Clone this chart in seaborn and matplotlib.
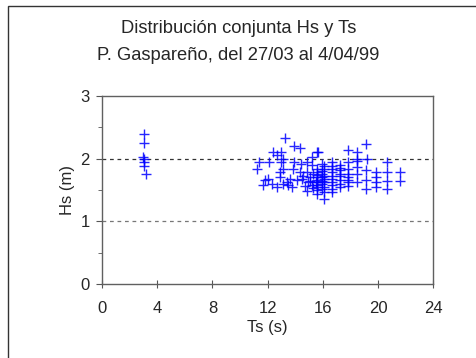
import matplotlib
matplotlib.use("Agg")
import matplotlib.pyplot as plt
from matplotlib.patches import Rectangle
from matplotlib.ticker import MultipleLocator
import seaborn as sns
import pandas as pd

# periodo (s) y altura de ola (m)
ts = [3.05, 3.05, 3.0, 3.05, 3.05, 3.05, 3.15,
      13.26, 13.91, 14.35, 12.37, 12.97, 12.70, 13.14, 11.40, 12.10, 12.97,
      11.21, 13.91, 14.42, 14.83, 15.19, 15.56, 15.20, 13.14, 13.86, 12.90,
      14.35, 14.88, 12.90, 12.05, 11.81, 13.62, 14.11, 14.47, 11.69, 12.30,
      12.66, 13.14, 13.50, 13.74, 13.38, 14.71, 14.83, 15.07, 15.50, 15.56,
      15.30,
      19.11, 17.85, 18.50, 18.50, 19.18, 15.68, 20.66, 15.92, 16.64, 17.85,
      18.45, 17.25, 15.56, 16.11, 16.64, 17.25, 17.85, 18.50, 19.11, 19.86,
      20.66, 21.59, 18.50, 17.80, 19.11, 19.86, 20.66, 21.59, 19.86, 18.50,
      17.80, 19.11, 19.86, 20.66, 17.25, 16.64, 16.11, 16.11,
      15.56, 15.56, 15.56, 15.56, 15.56, 15.56, 15.56, 15.56,
      15.92, 15.92, 15.92, 15.92, 15.92, 15.92,
      16.11, 16.11, 16.11, 16.11, 16.11,
      16.64, 16.64, 16.64, 16.64, 16.64, 16.64, 16.64,
      17.25, 17.25, 17.25, 17.25, 17.25,
      14.60, 15.10, 15.30, 14.90, 15.20, 17.85, 17.85, 17.85]
hs = [2.40, 2.25, 2.03, 2.00, 1.95, 1.88, 1.76,
      2.33, 2.20, 2.17, 2.10, 2.11, 2.05, 1.99, 1.95, 1.95, 1.95,
      1.84, 1.94, 1.92, 1.94, 2.03, 2.11, 1.90, 1.83, 1.84, 1.78,
      1.79, 1.78, 1.70, 1.67, 1.66, 1.67, 1.66, 1.67, 1.58, 1.59,
      1.55, 1.59, 1.58, 1.54, 1.62, 1.56, 1.48, 1.64, 1.62, 1.43,
      1.53,
      2.24, 2.13, 2.10, 2.00, 2.00, 2.11, 1.94, 1.92, 1.95, 1.94,
      1.96, 1.90, 1.84, 1.83, 1.84, 1.81, 1.84, 1.86, 1.81, 1.79,
      1.78, 1.78, 1.76, 1.70, 1.66, 1.70, 1.65, 1.65, 1.62, 1.62,
      1.56, 1.52, 1.55, 1.52, 1.54, 1.46, 1.36, 1.46,
      1.50, 1.55, 1.58, 1.62, 1.66, 1.70, 1.74, 1.78,
      1.52, 1.60, 1.64, 1.70, 1.75, 1.80,
      1.55, 1.62, 1.68, 1.72, 1.88,
      1.52, 1.58, 1.63, 1.68, 1.72, 1.78, 1.88,
      1.60, 1.66, 1.72, 1.76, 1.85,
      1.72, 1.70, 1.75, 1.62, 1.58, 1.62, 1.66, 1.76]

df = pd.DataFrame({"Ts": ts, "Hs": hs})

sns.set_style("white")
plt.rcParams["font.family"] = ["Liberation Sans", "DejaVu Sans"]

fig = plt.figure(figsize=(4.77, 3.58), dpi=100)
ax = fig.add_axes([0.214, 0.207, 0.694, 0.525])

sns.scatterplot(x="Ts", y="Hs", data=df, marker="+", color="#0000ff",
                s=45, linewidth=1.0, alpha=0.85, ax=ax, zorder=3)

ax.set_xlim(0, 24)
ax.set_ylim(0, 3)
ax.xaxis.set_major_locator(MultipleLocator(4))
ax.xaxis.set_minor_locator(MultipleLocator(2))
ax.yaxis.set_major_locator(MultipleLocator(1))
ax.yaxis.set_minor_locator(MultipleLocator(0.5))
ax.tick_params(axis="x", which="both", direction="inout", length=6,
               color="#555555", labelsize=12, pad=9)
ax.tick_params(axis="x", which="minor", length=5)
ax.tick_params(axis="y", which="both", direction="out", length=4,
               color="#555555", labelsize=12, pad=5, left=True)
ax.tick_params(axis="y", which="minor", length=3)
ax.tick_params(axis="x", bottom=True)

for sp in ax.spines.values():
    sp.set_color("#606060")
    sp.set_linewidth(1.0)

ax.axhline(2, color="#333333", linestyle=(0, (3, 3)), linewidth=0.9, zorder=1)
ax.axhline(1, color="#777777", linestyle=(0, (3, 3)), linewidth=0.9, zorder=1)

ax.set_xlabel("Ts (s)", fontsize=12, labelpad=3)
ax.set_ylabel("Hs (m)", fontsize=12, labelpad=4)

fig.text(0.5, 0.92, "Distribución conjunta Hs y Ts", ha="center",
         va="center", fontsize=13.2)
fig.text(0.5, 0.845, "P. Gaspareño, del 27/03 al 4/04/99", ha="center",
         va="center", fontsize=13.2)

fig.patches.append(Rectangle((8 / 477, -0.05), 1.0, 1.05 - 6 / 358,
                             transform=fig.transFigure, fill=False,
                             edgecolor="#333333", linewidth=1.0))

fig.savefig("out.png", dpi=100)
